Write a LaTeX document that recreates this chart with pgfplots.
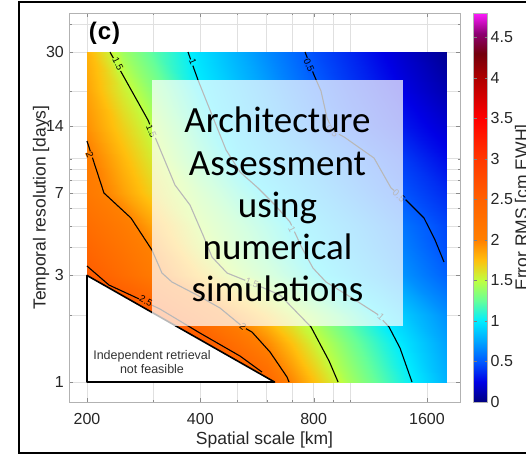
\documentclass[border=0pt]{standalone}
\usepackage{pgfplots}
\pgfplotsset{compat=1.18}
\usepackage{fontspec}
\setmainfont{Liberation Sans}
\newfontfamily\calibri{Carlito}
\definecolor{c05}{rgb}{0,0.35,1}
\definecolor{c1}{rgb}{0,0.93,1}
\definecolor{c15}{rgb}{0.75,1,0.25}
\definecolor{c2}{rgb}{1,0.5,0}
\definecolor{c25}{rgb}{1,0.38,0}
\pgfplotsset{colormap={errmap}{rgb(0pt)=(0,0,0.5); rgb(25pt)=(0,0,0.9); rgb(50pt)=(0,0.35,1); rgb(75pt)=(0,0.65,1); rgb(100pt)=(0,0.93,1); rgb(125pt)=(0.4,1,0.6); rgb(150pt)=(0.75,1,0.25); rgb(175pt)=(1,0.75,0.05); rgb(200pt)=(1,0.5,0); rgb(250pt)=(1,0.38,0); rgb(300pt)=(1,0.22,0); rgb(350pt)=(1,0,0); rgb(400pt)=(0.68,0,0); rgb(430pt)=(0.45,0,0.05); rgb(455pt)=(0.55,0,0.45); rgb(480pt)=(1,0.1,1)}}
\pgfplotstableread{
x y z
200 1 3.50
250 1 3.30
300 1 3.10
400 1 2.85
500 1 2.65
600 1 2.41
700 1 1.97
800 1 1.75
1000 1 1.42
1200 1 1.22
1400 1 1.05
1800 1 0.80
200 1.5 3.30
250 1.5 3.05
300 1.5 2.80
400 1.5 2.61
500 1.5 2.25
600 1.5 1.96
700 1.5 1.74
800 1.5 1.55
1000 1.5 1.30
1200 1.5 1.11
1400 1.5 0.96
1800 1.5 0.74
200 2 3.10
250 2 2.80
300 2 2.61
400 2 2.23
500 2 1.94
600 2 1.73
700 2 1.55
800 2 1.41
1000 2 1.18
1200 2 0.99
1400 2 0.87
1800 2 0.68
200 3 2.58
250 3 2.31
300 3 2.09
400 3 1.74
500 3 1.48
600 3 1.31
700 3 1.16
800 3 1.03
1000 3 0.89
1200 3 0.78
1400 3 0.68
1800 3 0.53
200 4 2.42
250 4 2.18
300 4 1.97
400 4 1.57
500 4 1.35
600 4 1.19
700 4 1.05
800 4 0.96
1000 4 0.82
1200 4 0.71
1400 4 0.62
1800 4 0.47
200 5 2.30
250 5 2.08
300 5 1.86
400 5 1.49
500 5 1.29
600 5 1.13
700 5 0.99
800 5 0.91
1000 5 0.78
1200 5 0.67
1400 5 0.58
1800 5 0.45
200 7 2.11
250 7 1.87
300 7 1.68
400 7 1.38
500 7 1.14
600 7 0.97
700 7 0.88
800 7 0.80
1000 7 0.67
1200 7 0.56
1400 7 0.48
1800 7 0.37
200 10 2.04
250 10 1.78
300 10 1.58
400 10 1.21
500 10 0.96
600 10 0.86
700 10 0.78
800 10 0.71
1000 10 0.58
1200 10 0.48
1400 10 0.41
1800 10 0.28
200 14 1.93
250 14 1.68
300 14 1.48
400 14 1.10
500 14 0.90
600 14 0.78
700 14 0.68
800 14 0.59
1000 14 0.46
1200 14 0.38
1400 14 0.31
1800 14 0.20
200 20 1.86
250 20 1.57
300 20 1.35
400 20 1.00
500 20 0.85
600 20 0.73
700 20 0.62
800 20 0.53
1000 20 0.41
1200 20 0.32
1400 20 0.24
1800 20 0.12
200 30 1.80
250 30 1.41
300 30 1.22
400 30 0.95
500 30 0.79
600 30 0.66
700 30 0.56
800 30 0.47
1000 30 0.36
1200 30 0.26
1400 30 0.18
1800 30 0.05
}\errtable
\begin{document}
\begin{tikzpicture}[x=1pt,y=1pt]
\useasboundingbox (0,0) rectangle (526,456);
\clip (0,0) rectangle (526,456);
\begin{axis}[
  at={(69pt,54pt)}, anchor=south west,
  scale only axis, width=391pt, height=389pt,
  xmode=log, ymode=log,
  xmin=179.2, xmax=1958.8, ymin=0.814, ymax=44.85,
  xtick={200,400,800,1600}, xticklabels={200,400,800,1600},
  ytick={1,3,7,14,30}, yticklabels={1,3,7,14,30},
  minor xtick={300,500,600,700,900,1000},
  minor ytick={2,4,5,6,8,9,10,20,40},
  grid=both,
  major grid style={draw=black!12, line width=0.5pt},
  minor grid style={draw=black!12, line width=0.5pt},
  axis line style={draw=black!30},
  tick style={draw=black!45},
  major tick length=4pt, minor tick length=2.5pt,
  tick align=inside,
  xticklabel style={anchor=base, yshift=-22pt, inner sep=0pt, font=\fontsize{16}{16}\selectfont, text=black!85},
  yticklabel style={anchor=east, xshift=-5pt, inner sep=0pt, font=\fontsize{16}{16}\selectfont, text=black!85},
  xlabel={Spatial scale [km]},
  xlabel style={at={(axis description cs:0.5,0)}, anchor=base, yshift=-42pt, inner sep=0pt, font=\fontsize{17.5}{17.5}\selectfont, text=black!85},
  ylabel={Temporal resolution [days]},
  ylabel style={at={(axis description cs:0,0.5)}, anchor=base, yshift=23.5pt, inner sep=0pt, font=\fontsize{17.5}{17.5}\selectfont, text=black!85},
  colormap name=errmap,
  point meta min=0, point meta max=4.8,
  colorbar,
  colorbar style={
    at={(parent axis.north east)}, anchor=north west, xshift=5pt,
    scale only axis, width=14pt, height=389pt,
    ytick={0,0.5,1,1.5,2,2.5,3,3.5,4,4.5},
    yticklabels={0,0.5,1,1.5,2,2.5,3,3.5,4,4.5},
    yticklabel style={font=\fontsize{16}{16}\selectfont, text=black!85, inner sep=0pt, xshift=3pt},
    axis line style={draw=black!30},
    ytick style={draw=black!50},
    major tick length=3pt,
  },
]
\addplot[surf, shader=interp, mesh/cols=12, point meta=explicit] table[x=x, y=y, meta=z] {\errtable};
% contours
\addplot[black, line width=1.1pt, line join=round] coordinates {(200,3.306) (228.8,2.718) (268.2,2.402) (312.6,2.122) (399.2,1.657) (510,1.307) (583.5,1.108)};
\addplot[black, line width=1.1pt, line join=round] coordinates {(200,11.99) (221.9,7.015) (261.8,5.42) (297.6,3.898) (316.4,3.075) (336.4,2.803) (392,2.452) (451.3,2.144) (519.4,1.763) (548.8,1.674) (612.8,1.362) (679.8,1.053) (688.2,1)};
\addplot[black, line width=1.1pt, line join=round] coordinates {(230.2,30) (290.4,14.89) (342.6,7.616) (375.6,6.198) (406.6,4.55) (429.7,3.627) (471.1,3.075) (548.8,2.775) (651.4,2.452) (787.4,1.763) (879.3,1.242) (929,1)};
\addplot[black, line width=1.1pt, line join=round] coordinates {(371,30) (394.4,22.48) (429.7,15.67) (468.2,10.93) (510,8.71) (569.4,7.385) (631.7,6.198) (692.4,5.202) (745.2,3.98) (797,3.237) (863,2.803) (1011.7,2.377) (1179,2.016) (1268.8,1.763) (1357,1.419) (1460,1)};
\addplot[black, line width=1.1pt, line join=round] coordinates {(759,30) (801.8,23.67) (836.9,20.07) (868.2,15.2) (900.8,13.29) (963.6,12.5) (1157.6,10.06) (1284.6,7.385) (1407.8,6.526) (1571.6,5.42) (1681,4.322) (1775.8,3.445)};
% infeasible region
\addplot[fill=white, draw=black, line width=1.6pt, line join=round, line cap=round] coordinates {(200,3) (200,1) (630,1) (200,3)};
% contour labels
\begin{scope}[every node/.style={inner sep=0.6pt, font=\fontsize{9.5}{9.5}\selectfont, text=black}]
\node[rotate=-63.4, fill=c15] at (axis cs:241.8,26.51) {1.5};
\node[rotate=-67.6, fill=c15] at (axis cs:296.7,13.22) {1.5};
\node[rotate=-20.6, fill=c15] at (axis cs:548.8,2.775) {1.5};
\node[rotate=-69.4, fill=c2] at (axis cs:203.7,10.38) {2};
\node[rotate=-38.7, fill=c2] at (axis cs:519.4,1.763) {2};
\node[rotate=-27.9, fill=c25] at (axis cs:286.9,2.305) {2.5};
\node[rotate=-67.2, fill=c1] at (axis cs:382.4,27.06) {1};
\node[rotate=-63.4, fill=c1] at (axis cs:700.9,4.84) {1};
\node[rotate=-42.3, fill=c1] at (axis cs:1208,1.954) {1};
\node[rotate=-67.2, fill=c05] at (axis cs:777.8,26.24) {0.5};
\node[rotate=-39.8, fill=c05] at (axis cs:895.2,13.29) {0.5};
\node[rotate=-42.5, fill=c05] at (axis cs:1348.8,6.80) {0.5};
\end{scope}
\end{axis}
% text in infeasible region
\node[align=center, font=\fontsize{12.5}{14}\selectfont, text=black!80, inner sep=0pt] at (152,93.5) {Independent retrieval\\not feasible};
% overlay box
\fill[white, opacity=0.72] (152,130) rectangle (403,376);
\node[font=\calibri\fontsize{37}{42.2}\selectfont, align=center, inner sep=0pt] at (277.5,251.5) {Architecture\\Assessment\\using\\numerical\\simulations};
% panel label
\node[font=\bfseries\fontsize{24}{24}\selectfont, inner sep=0pt] at (104.5,422.5) {(\kern1pt c\kern1pt)};
% colorbar label
\node[rotate=90, anchor=base, font=\fontsize{17.5}{17.5}\selectfont, text=black!85, inner sep=0pt] at (527.5,248.5) {Error RMS [cm EWH]};
% outer frame
\draw[line width=1.3pt] (19,454) rectangle (545,3);
\end{tikzpicture}
\end{document}
